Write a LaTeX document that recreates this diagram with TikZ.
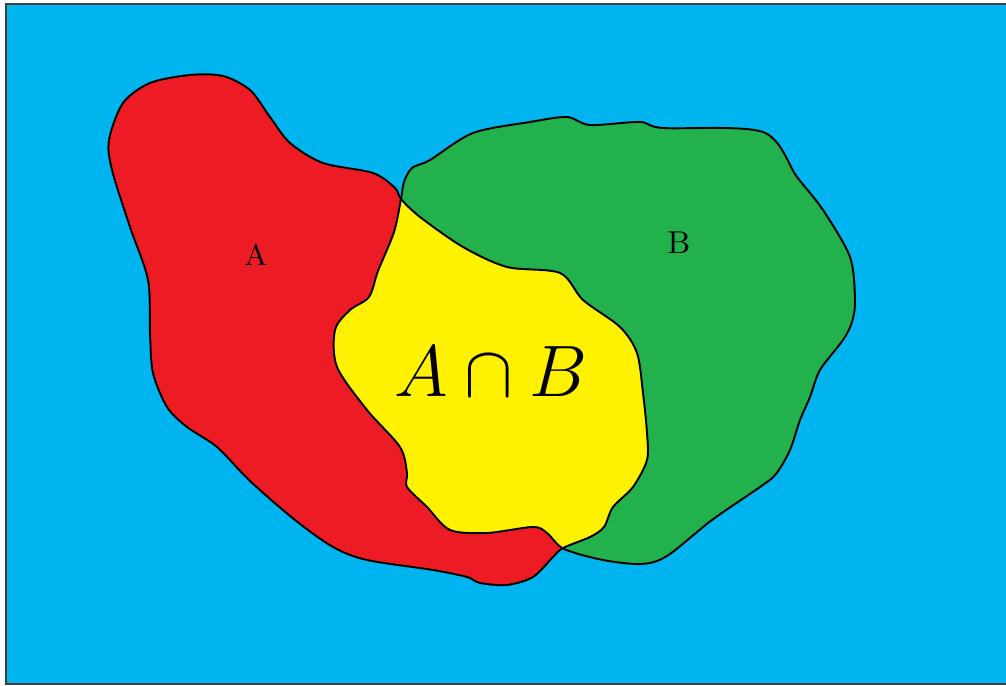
\documentclass[tikz,border=0pt]{standalone}
\usepackage{fontspec}
\usepackage{xcolor}
\usepackage{tikz}
\definecolor{SkyBlue}{HTML}{00B4EF}
\definecolor{PaintRed}{HTML}{ED1C24}
\definecolor{PaintGreen}{HTML}{22B14C}
\definecolor{PaintYellow}{HTML}{FFF200}
\tikzset{
  frameBox/.style={fill=SkyBlue,draw=black!75,line width=0.6pt},
  setEdge/.style={draw=black,line width=0.55pt},
  setA/.style={fill=PaintRed},
  setB/.style={fill=PaintGreen},
  setAB/.style={fill=PaintYellow},
  lblSmall/.style={inner sep=0pt,font=\fontsize{8.5}{10}\selectfont},
  lblBig/.style={inner sep=0pt,font=\fontsize{20.74}{24}\selectfont}
}
% outlines of the two sets, in picture pixels
\def\blobA{plot[smooth cycle,tension=0.5] coordinates {
  (401,199) (420,217) (463,247) (507,267) (560,273) (583,300) (620,327)
  (637,353) (643,393) (647,433) (647,460) (633,487) (613,507) (604,527)
  (590,537) (563,548) (553,557) (533,577) (507,585) (480,583) (467,577)
  (433,570) (367,560) (333,547) (295,520) (250,481) (217,447) (187,427)
  (167,407) (153,373) (150,333) (148,280) (130,227) (112,170) (109,140)
  (123,103) (150,83) (190,75) (223,76) (250,90) (270,117) (290,143)
  (323,163) (373,173) (395,188)}}
\def\blobB{plot[smooth cycle,tension=0.5] coordinates {
  (401,199) (404,182) (412,168) (430,160) (473,133) (530,122) (567,117)
  (590,125) (640,122) (663,128) (763,132) (797,177) (823,210) (850,257)
  (855,300) (852,322) (843,340) (820,370) (810,397) (800,420) (790,450)
  (776,474) (760,487) (712,520) (667,556) (641,564) (603,560) (564,549)
  (547,533) (533,527) (487,533) (450,530) (427,507) (407,487) (407,473)
  (400,447) (367,410) (337,367) (335,330) (350,310) (369,297) (378,271)
  (394,232)}}

\begin{document}
\begin{tikzpicture}[x=0.01cm,y=-0.01cm]
  \useasboundingbox (0,0) rectangle (1006,686);
  \path[frameBox] (6,4) rectangle (1010,684);

  \path[setA] \blobA;
  \path[setB] \blobB;
  \begin{scope}
    \clip \blobA;
    \path[setAB] \blobB;
  \end{scope}
  \path[setEdge] \blobA;
  \path[setEdge] \blobB;

  \node[lblSmall] (labA) at (256,255) {A};
  \node[lblSmall,font=\fontsize{9}{10}\selectfont] (labB) at (679,243) {B};
  \node[lblBig] (labAB) at (491,372) {$A\cap B$};
\end{tikzpicture}
\end{document}
